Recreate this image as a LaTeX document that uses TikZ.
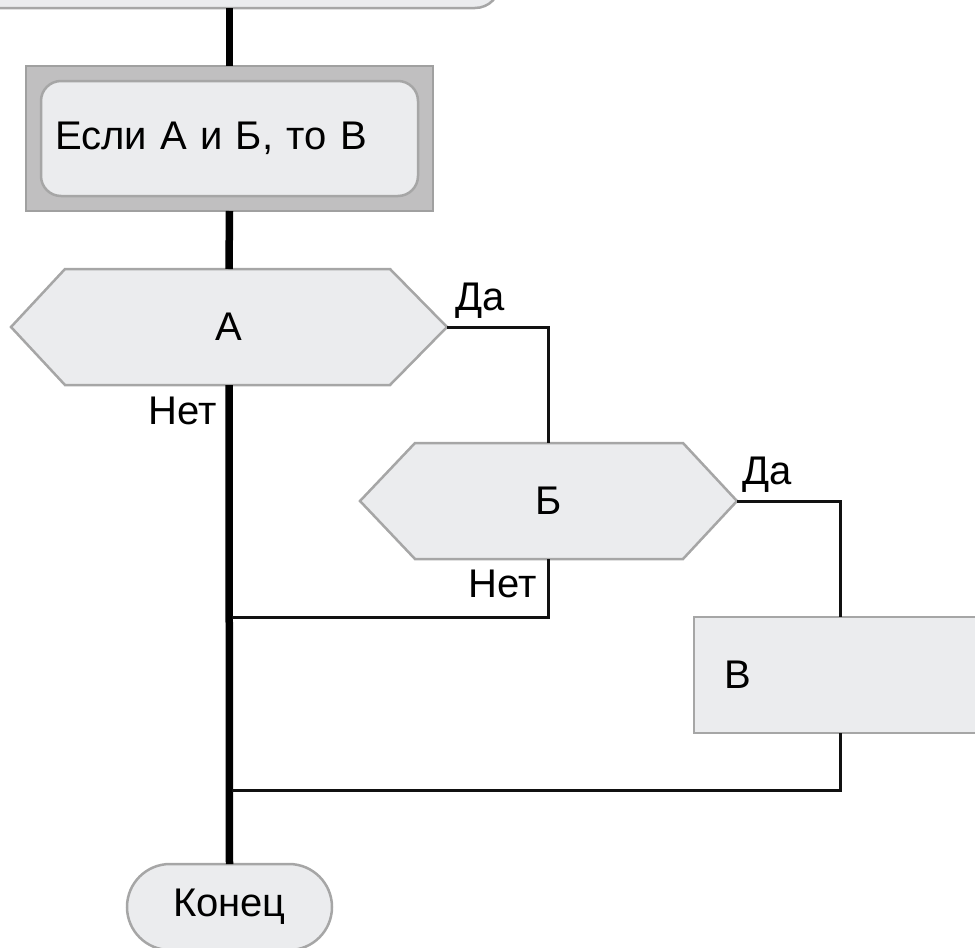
\documentclass[tikz,border=0pt]{standalone}
\usepackage{fontspec}
\setmainfont{Liberation Sans}
\usetikzlibrary{backgrounds}
\definecolor{shapefill}{HTML}{EBECEE}
\definecolor{shapeline}{HTML}{A6A6A6}
\definecolor{groupfill}{HTML}{C0BFC0}
\definecolor{groupline}{HTML}{A0A0A0}
\definecolor{lineclr}{HTML}{111111}
\tikzset{
  every node/.style={font=\fontsize{40}{46}\selectfont, text=black},
  flowbase/.style={fill=shapefill, draw=shapeline, line width=2.5pt, inner sep=0pt, outer sep=0pt},
  roundbox/.style={flowbase, rounded corners=25pt},
  groupbox/.style={fill=groupfill, draw=groupline, line width=2.5pt, inner sep=0pt, outer sep=0pt},
  actionbox/.style={flowbase, rounded corners=20pt, inner xsep=14pt, align=left},
  hexnode/.style={inner sep=0pt, outer sep=0pt, minimum height=116pt},
  hexfill/.style={fill=shapefill, draw=shapeline, line width=2.5pt},
  procbox/.style={flowbase, inner xsep=30pt, align=left},
  termbox/.style={flowbase, rounded corners=43pt},
  mainline/.style={line width=7.5pt, draw=black},
  branchline/.style={line width=3pt, draw=lineclr},
  lbl/.style={inner sep=0pt, outer sep=0pt}
}
\begin{document}
\begin{tikzpicture}[x=1pt, y=-1pt]
\useasboundingbox (0,0) rectangle (975,948);
\clip (0,0) rectangle (975,948);
% top shape (cut off)
\node[roundbox, minimum width=550pt, minimum height=108pt] (T) at (225,-46) {};
% group box
\node[groupbox, minimum width=407pt, minimum height=145pt] (G) at (229.5,138.5) {};
\node[actionbox, minimum height=115pt, text width=349pt] (S) at (229.5,138.5) {Если А и Б, то В};
% hexagons
\node[hexnode, minimum width=436pt] (A) at (229,327) {А};
\node[hexnode, minimum width=377pt] (B) at (548.5,501) {Б};
\begin{scope}[on background layer]
\filldraw[hexfill] (A.west) -- ([xshift=54pt]A.north west) -- ([xshift=-57pt]A.north east) -- (A.east) -- ([xshift=-57pt]A.south east) -- ([xshift=54pt]A.south west) -- cycle;
\filldraw[hexfill] (B.west) -- ([xshift=55pt]B.north west) -- ([xshift=-54pt]B.north east) -- (B.east) -- ([xshift=-54pt]B.south east) -- ([xshift=55pt]B.south west) -- cycle;
\end{scope}
% process box (cut off at right)
\node[procbox, anchor=west, minimum width=420pt, minimum height=116pt, text width=360pt] (V) at (694,675) {В};
% terminator
\node[termbox, minimum width=205pt, minimum height=86pt] (E) at (229.5,907) {Конец};
% junctions
\coordinate (j1) at (232,617);
\coordinate (j2) at (232,790);
\coordinate (vin) at ([xshift=146pt]V.north west);
\coordinate (vout) at ([xshift=146pt]V.south west);
% connectors
\draw[mainline] (G.north |- T.south) -- (G.north);
\draw[mainline] (G.south) -- (A.north);
\draw[mainline] (A.south) -- (E.north);
\draw[branchline] (A.east) -| (B.north);
\draw[branchline] (B.east) -| (vin);
\draw[branchline] (B.south) |- (j1);
\draw[branchline] (vout) |- (j2);
% labels
\node[lbl, anchor=base west] (la1) at (455,310) {Да};
\node[lbl, anchor=base east] (la2) at (217,424) {Нет};
\node[lbl, anchor=base west] (lb1) at (742,484) {Да};
\node[lbl, anchor=base east] (lb2) at (537,597) {Нет};
\end{tikzpicture}
\end{document}
